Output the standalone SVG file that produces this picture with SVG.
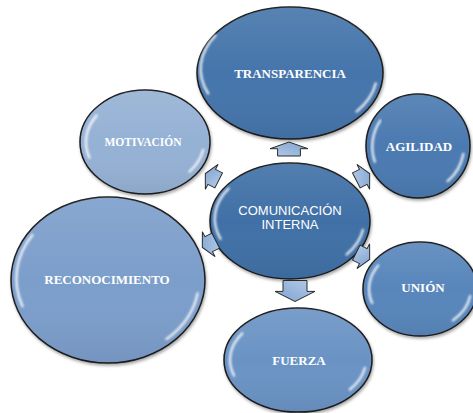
<svg xmlns="http://www.w3.org/2000/svg" width="473" height="413" viewBox="0 0 473 413">
  <defs>
    <filter id="sh" x="-10%" y="-10%" width="125%" height="125%">
      <feDropShadow dx="1" dy="2" stdDeviation="1.6" flood-color="#000" flood-opacity="0.35"/>
    </filter>
    <filter id="blur" x="-20%" y="-20%" width="140%" height="140%">
      <feGaussianBlur stdDeviation="0.9"/>
    </filter>
    <linearGradient id="gloss" x1="0" y1="0" x2="0" y2="1">
      <stop offset="0" stop-color="#fff" stop-opacity="0.10"/>
      <stop offset="0.5" stop-color="#fff" stop-opacity="0"/>
      <stop offset="1" stop-color="#000" stop-opacity="0.06"/>
    </linearGradient>
    <linearGradient id="arrowFill" x1="0" y1="0" x2="1" y2="1">
      <stop offset="0" stop-color="#b4cbe8"/>
      <stop offset="1" stop-color="#7ea2cf"/>
    </linearGradient>
    <path id="arrSide" d="M-7.5,-8.4 L0.3,-8.4 L0.3,-14 L7.5,0 L0.3,14 L0.3,8.4 L-7.5,8.4 Z"/>
  </defs>
  <style>
    .node { stroke: #1a1a1a; stroke-width: 1.5; filter: url(#sh); }
    .gloss { fill: url(#gloss); stroke: none; }
    .hl { fill: none; stroke: #ffffff; stroke-width: 2.4; stroke-linecap: round; opacity: 0.85; filter: url(#blur); }
    .ser { font-family: "Liberation Serif", "Times New Roman", serif; font-weight: bold; fill: #ffffff; text-anchor: middle; font-size: 13px; }
    .sans { font-family: "Liberation Sans", Arial, sans-serif; fill: #ffffff; text-anchor: middle; font-size: 13px; }
    .arrow { fill: url(#arrowFill); stroke: #2a2a2a; stroke-width: 1; stroke-linejoin: miter; }
  </style>

  <g id="transparencia">
    <ellipse class="node" cx="290" cy="73" rx="93" ry="66" fill="#4575ab"/>
    <ellipse class="gloss" cx="290" cy="73" rx="93" ry="66"/>
    <path class="hl" d="M215.5,35.5 A87,60 0 0 0 208.2,93.5"/>
    <path class="hl" d="M375.8,83.4 A87,60 0 0 1 356.6,111.6"/>
    <text class="ser" x="290" y="78">TRANSPARENCIA</text>
  </g>

  <g id="agilidad">
    <ellipse class="node" cx="418" cy="146" rx="52" ry="52" fill="#4b7ab1"/>
    <ellipse class="gloss" cx="418" cy="146" rx="52" ry="52"/>
    <path class="hl" d="M380.3,120.6 A46,46 0 0 0 374.8,161.7"/>
    <path class="hl" d="M463.3,154 A46,46 0 0 1 447.6,181.2"/>
    <text class="ser" x="419" y="151">AGILIDAD</text>
  </g>

  <g id="union">
    <ellipse class="node" cx="420" cy="289" rx="57" ry="47" fill="#5886bb"/>
    <ellipse class="gloss" cx="420" cy="289" rx="57" ry="47"/>
    <path class="hl" d="M378.2,265.5 A51,41 0 0 0 372.1,303"/>
    <path class="hl" d="M470.2,296.1 A51,41 0 0 1 452.8,320.4"/>
    <text class="ser" x="423" y="292">UNIÓN</text>
  </g>

  <g id="fuerza">
    <ellipse class="node" cx="298" cy="360" rx="74" ry="52" fill="#6b93c4"/>
    <ellipse class="gloss" cx="298" cy="360" rx="74" ry="52"/>
    <path class="hl" d="M242.3,333.4 A68,46 0 0 0 234.1,375.7"/>
    <path class="hl" d="M364.9,368 A68,46 0 0 1 349.9,389.5"/>
    <text class="ser" x="299" y="365">FUERZA</text>
  </g>

  <g id="reconocimiento">
    <ellipse class="node" cx="108" cy="280" rx="97" ry="83" fill="#7b9ecb"/>
    <ellipse class="gloss" cx="108" cy="280" rx="97" ry="83"/>
    <path class="hl" d="M32.4,235 A91,77 0 0 0 22.5,306.3"/>
    <path class="hl" d="M197.6,293.4 A91,77 0 0 1 166.5,339"/>
    <text class="ser" x="107" y="284">RECONOCIMIENTO</text>
  </g>

  <g id="motivacion">
    <ellipse class="node" cx="145" cy="142" rx="65" ry="52" fill="#95b1d4"/>
    <ellipse class="gloss" cx="145" cy="142" rx="65" ry="52"/>
    <path class="hl" d="M96.6,115.6 A59,46 0 0 0 89.5,157.7"/>
    <path class="hl" d="M203.1,150 A59,46 0 0 1 189.5,171.6"/>
    <text class="ser" x="143" y="146" style="font-size:11.5px">MOTIVACIÓN</text>
  </g>

  <g id="comunicacion">
    <ellipse class="node" cx="290" cy="221" rx="80" ry="58" fill="#3f6fa6"/>
    <ellipse class="gloss" cx="290" cy="221" rx="80" ry="58"/>
    <path class="hl" d="M228.5,188.6 A74,52 0 0 0 220.5,238.8"/>
    <path class="hl" d="M362.9,230 A74,52 0 0 1 346.7,254.4"/>
    <text class="sans" x="290" y="215">COMUNICACIÓN</text>
    <text class="sans" x="290" y="229">INTERNA</text>
  </g>

  <g id="connectors">
    <path class="arrow" transform="translate(289,149) rotate(-90)" d="M-7,-11.4 L0.3,-11.4 L0.3,-19 L7,0 L0.3,19 L0.3,11.4 L-7,11.4 Z"/>
    <path class="arrow" transform="translate(295,291) rotate(90)" d="M-10.5,-12 L0.4,-12 L0.4,-20 L10.5,0 L0.4,20 L0.4,12 L-10.5,12 Z"/>
    <use href="#arrSide" class="arrow" transform="translate(212,177) rotate(-153)"/>
    <use href="#arrSide" class="arrow" transform="translate(209,244) rotate(153)"/>
    <use href="#arrSide" class="arrow" transform="translate(363,177) rotate(-27)"/>
    <use href="#arrSide" class="arrow" transform="translate(363,256) rotate(27)"/>
  </g>
</svg>
